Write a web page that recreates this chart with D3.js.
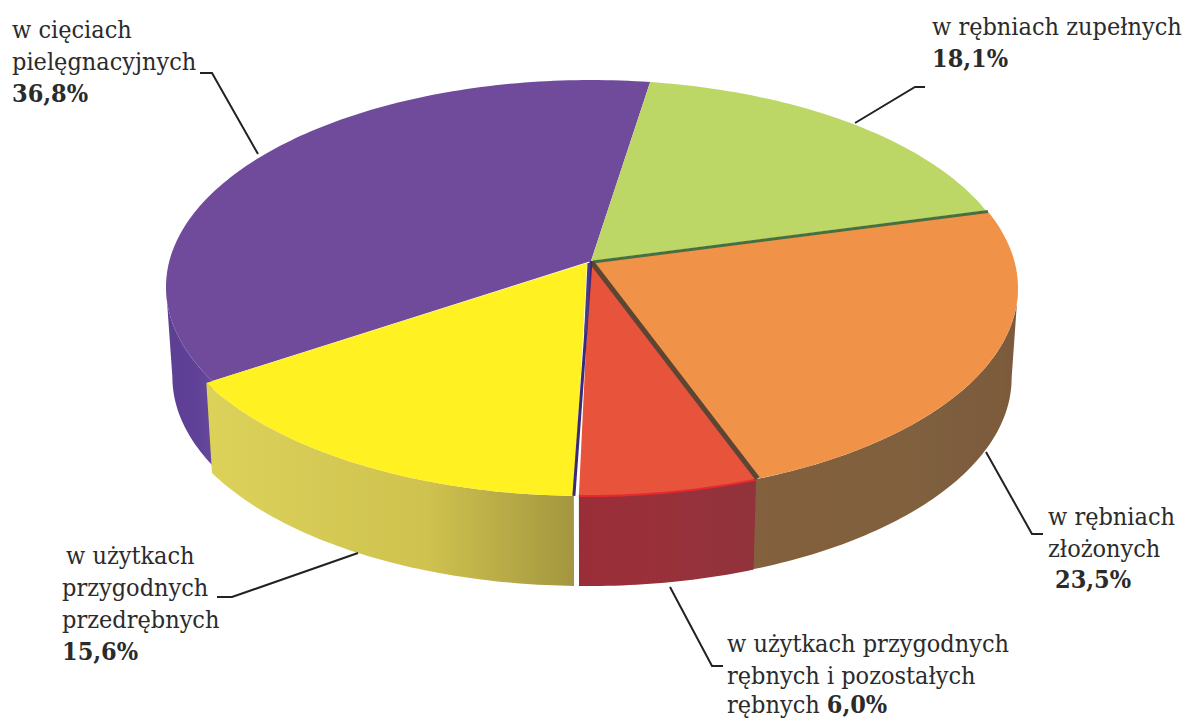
<!DOCTYPE html>
<html lang="pl">
<head>
<meta charset="utf-8">
<script src="https://cdn.jsdelivr.net/npm/d3@7/dist/d3.min.js"></script>
<style>
html,body{margin:0;padding:0;background:#fff}
svg{display:block}
text{font-family:"DejaVu Serif",serif;font-stretch:condensed;font-size:25px;fill:#2b2b2b}
text.b,tspan.b{font-weight:bold}
</style>
</head>
<body>
<svg id="c" width="1187" height="720"></svg>
<script>
// data
const categories = ["w rębniach zupełnych","w rębniach złożonych","w użytkach przygodnych rębnych i pozostałych rębnych","w użytkach przygodnych przedrębnych","w cięciach pielęgnacyjnych"];
const values = [18.1,23.5,6.0,15.6,36.8];
const topColors = ["#bcd766","#f1924a","#e8523a","#fff120","#6f4b9b"];
const sideColors = [["#9bb552","#9bb552","#9bb552"],["#84603e","#80603e","#7a5a3b"],["#9a2f38","#96303a","#92313a"],["#dcd25a","#cfc24f","#a3963f"],["#5c3f94","#5f4297","#684a9c"]];
const offsetX = [0,2,-1,-6,0];
const offsetY = [-1,0,1,1,-1];
const apexOffsetX = [0,2,-1,-4,0];

// geometry
const cx=591,cy=288,rx=425,ry=207,apexY=262,depth=90,bottomScale=.985;
const startDeg=8;
const pie=d3.pie().sort(null).startAngle(startDeg*Math.PI/180).endAngle((startDeg+360)*Math.PI/180);
const arcs=pie(values);
const toDeg=d3.scaleLinear().domain([0,Math.PI*2]).range([0,360]);
// perspective warp from the pie's angle to the parameter on the tilted rim
const warp=d3.scaleLinear()
  .domain([8,73.16,157.76,179.36,235.52,368])
  .range([8,68.3,157,181.5,243,368]);
const xScale=d3.scaleLinear().domain([-1,1]).range([cx-rx,cx+rx]);
const yScale=d3.scaleLinear().domain([-1,1]).range([cy+ry,cy-ry]);
function rim(deg,i,low){
  const t=deg*Math.PI/180,s=Math.sin(t),c=Math.cos(t);
  const y=yScale(c)+offsetY[i]+(low?depth:0);
  const x=low?cx+(xScale(s)-cx)*bottomScale:xScale(s);
  return [x+offsetX[i],y];
}
const apexOf=i=>[cx+apexOffsetX[i],apexY+offsetY[i]];
const line=d3.line();
function sweep(a,b,i,low){
  const n=Math.max(2,Math.ceil(Math.abs(b-a)));
  return d3.range(n+1).map(k=>rim(a+(b-a)*k/n,i,low));
}
const startOf=i=>warp(toDeg(arcs[i].startAngle));
const endOf=i=>warp(toDeg(arcs[i].endAngle));

const svg=d3.select("#c");
const defs=svg.append("defs");
defs.append("filter").attr("id","soft").append("feGaussianBlur").attr("stdDeviation",0.7);
categories.forEach((_,i)=>{
  const g=defs.append("linearGradient").attr("id","side"+i);
  sideColors[i].forEach((col,k)=>g.append("stop").attr("offset",[0,.6,1][k]).attr("stop-color",col));
});
const pg=svg.append("g").attr("filter","url(#soft)");
// back to front: purple, green, orange, red, yellow
[4,0,1,2,3].forEach(i=>{
  const a=startOf(i),b=endOf(i);
  const sa=Math.max(a,90),sb=Math.min(b+(i===1?1.2:0),270);
  if(sb>sa){
    const pts=sweep(sa,sb,i,false).concat(sweep(sb,sa,i,true));
    pg.append("path").attr("d",line(pts)+"Z").attr("fill",`url(#side${i})`);
  }
  pg.append("path").attr("d",line([apexOf(i)].concat(sweep(a,b,i,false)))+"Z").attr("fill",topColors[i]);
  if(i===2){
    pg.append("path").attr("d",line(sweep(a,b,i,false))).attr("fill","none").attr("stroke","#e52a2f").attr("stroke-width",2);
  }
});
// dark seams between slices
const seam=(p,q,col,w)=>pg.append("path").attr("d",line([p,q])).attr("fill","none").attr("stroke",col).attr("stroke-width",w);
seam(apexOf(1),rim(startOf(1),1,false),"#47703f",3);
const oa=apexOf(1),ob=rim(endOf(1),1,false);
seam([oa[0]-1.5,oa[1]],[ob[0]-1.5,ob[1]],"#5b4530",5);
seam(apexOf(4),rim(startOf(3),3,false),"#3b2c78",3);
const rp=rim(endOf(2),2,false),ap=apexOf(2);
seam([ap[0]-1,ap[1]],[ap[0]-1+(rp[0]-ap[0])*.3,ap[1]+(rp[1]-ap[1])*.3],"#4a3a86",3);

// leader lines
const leaders=[
  [[925,87],[915,87],[855,123]],
  [[986,452],[1032,534],[1043,534]],
  [[670,587],[712,666],[723,666]],
  [[217,597],[232,597],[358,553]],
  [[200,73],[212,73],[258,154]]
];
svg.append("g").selectAll("path").data(leaders).join("path")
  .attr("d",d=>line(d)).attr("fill","none").attr("stroke","#222").attr("stroke-width",2);

// labels
const labelLines=[
  [["w rębniach zupełnych",932,35,0],["18,1%",932,67,1]],
  [["w rębniach",1048,525,0],["złożonych",1048,557,0],["23,5%",1055,588,1]],
  [["w użytkach przygodnych",727,652,0],["rębnych i pozostałych",727,684,0],["rębnych",727,713,0]],
  [["w użytkach",66,564,0],["przygodnych",62,596,0],["przedrębnych",62,628,0],["15,6%",62,660,1]],
  [["w cięciach",12,38,0],["pielęgnacyjnych",12,70,0],["36,8%",12,102,1]]
];
const tg=svg.append("g");
labelLines.flat().forEach(([t,x,y,b])=>{
  const el=tg.append("text").attr("x",x).attr("y",y).text(t);
  if(b) el.attr("class","b");
  if(t==="rębnych"){ el.append("tspan").attr("class","b").attr("dx",7).text("6,0%"); }
});
</script>
</body>
</html>
